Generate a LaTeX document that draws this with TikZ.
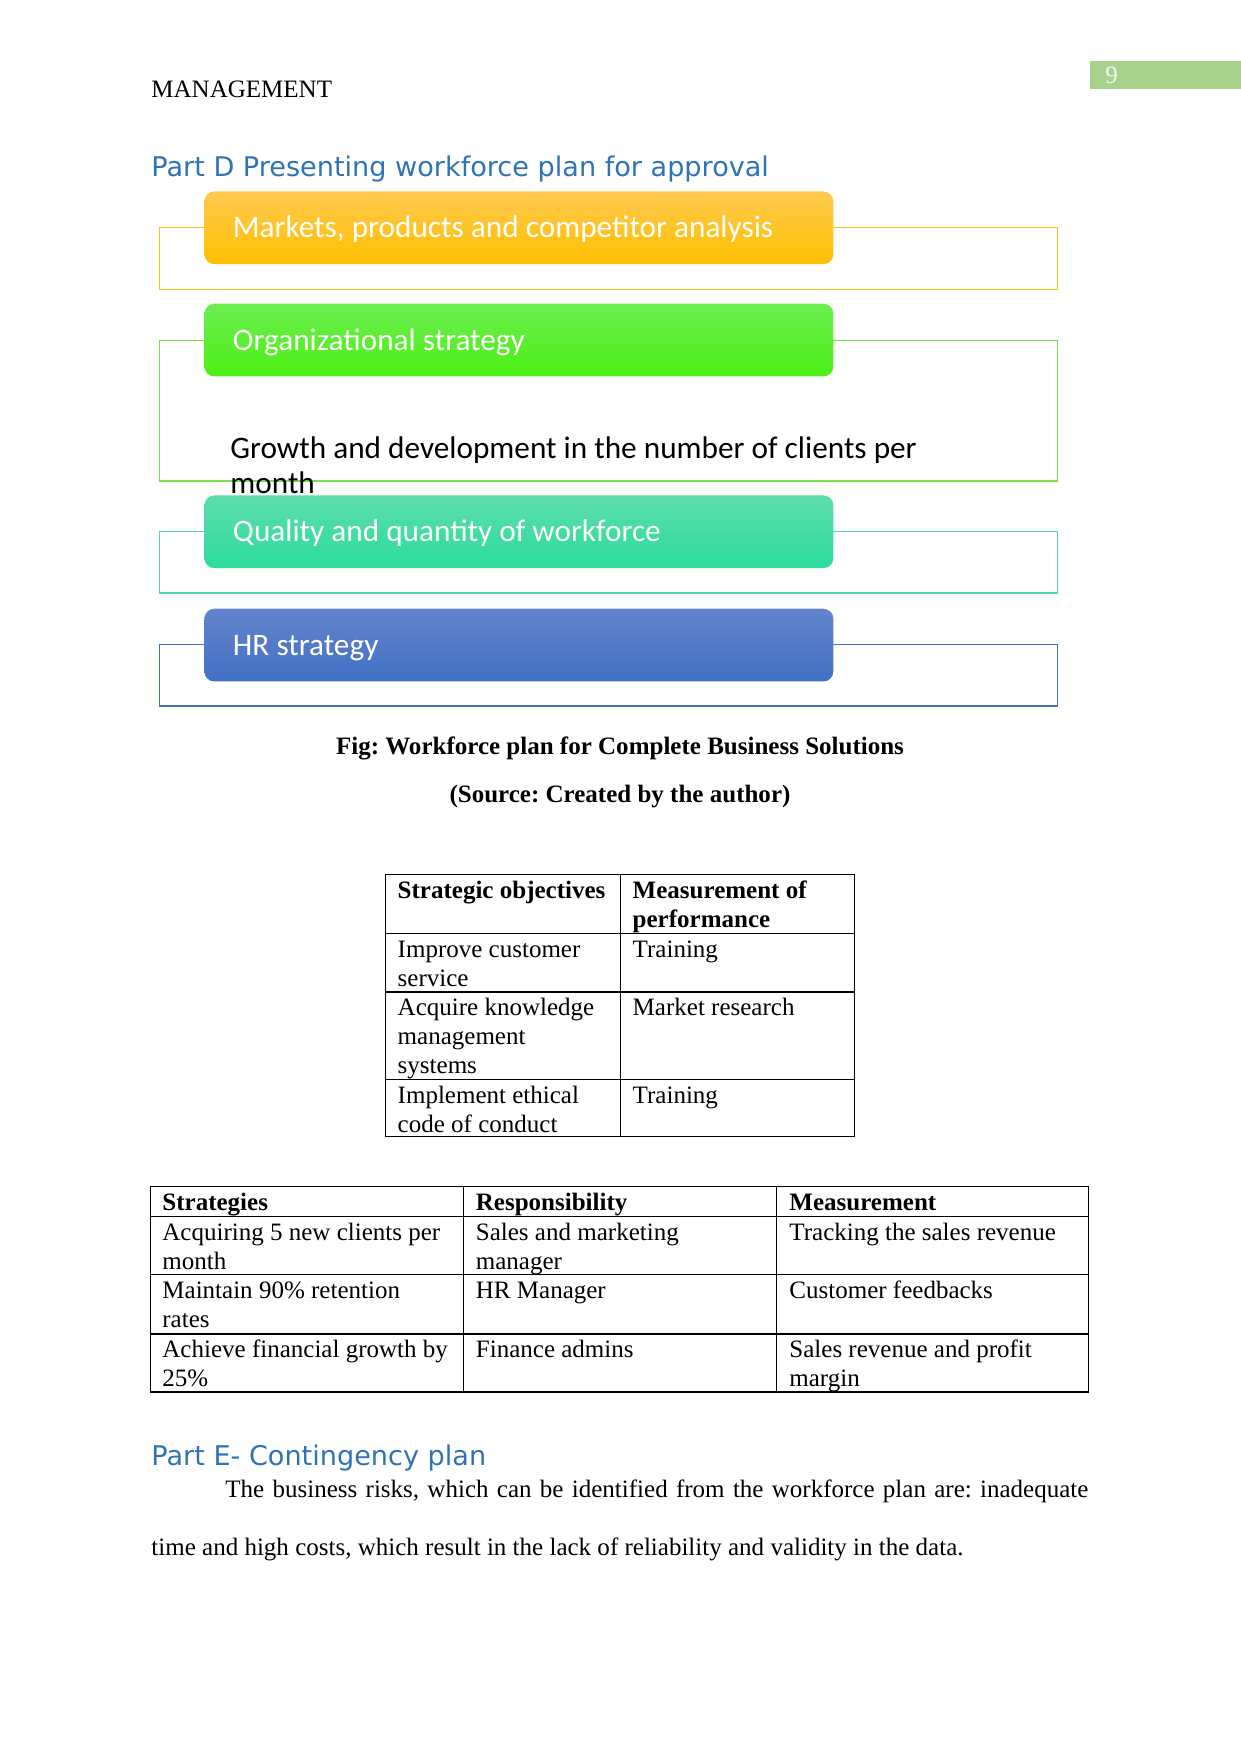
\documentclass[tikz,border=0pt]{standalone}
\usepackage{fontspec}
\setmainfont{Liberation Serif}
\newfontfamily\calibrifont{Carlito}
\newfontfamily\headingfont{DejaVu Sans}
\usepackage{tikz}
\frenchspacing

\definecolor{headblue}{HTML}{2E74B5}
\definecolor{pagegreen}{HTML}{A9D18E}
\definecolor{pagenum}{HTML}{F4FAE8}
\definecolor{orangetop}{HTML}{FFC94F}
\definecolor{orangebot}{HTML}{FFC000}
\definecolor{greentop}{HTML}{6CEE50}
\definecolor{greenbot}{HTML}{4CF014}
\definecolor{tealtop}{HTML}{5DDDAB}
\definecolor{tealbot}{HTML}{2CDC9C}
\definecolor{bluetop}{HTML}{6384CD}
\definecolor{bluebot}{HTML}{4270C4}
\definecolor{orangeline}{HTML}{F7C21A}
\definecolor{greenline}{HTML}{7ADF4C}
\definecolor{tealline}{HTML}{55D5AC}
\definecolor{blueline}{HTML}{4A6EB8}

\begin{document}
\begin{tikzpicture}[x=0.4797pt,y=-0.4797pt,
    stage/.style={rounded corners=4.8pt,anchor=north west,
      minimum height=34.9pt,inner xsep=13.7pt,inner ysep=0pt,
      text width=274.3pt,align=flush left,text=white,
      text height=9.7pt,text depth=0pt,
      font=\calibrifont\fontsize{15}{18}\selectfont},
    frame/.style={line width=0.6pt},
    rule/.style={line width=0.6pt},
    cell/.style={anchor=north west,inner sep=0pt,align=left,
      font=\fontsize{12}{13.8}\selectfont},
    heading/.style={anchor=base west,inner sep=0pt,text=headblue,
      font=\headingfont\fontsize{13}{15.6}\selectfont},
    body/.style={anchor=base west,inner sep=0pt,
      font=\fontsize{12}{13.8}\selectfont}]
  \useasboundingbox (0,0) rectangle (1241,1754);

  % page head
  \node[body] (head) at (151,98) {MANAGEMENT};
  \fill[pagegreen] (1090,61) rectangle (1241,89);
  \node[body,text=pagenum] (pnum) at (1105,83.3) {9};
  \node[heading] (partd) at (151,176.5) {Part D Presenting workforce plan for approval};

  % workforce plan diagram
  \draw[frame,orangeline] (159.5,227.4) rectangle (1057.3,289.3);
  \draw[frame,greenline] (159.5,340.3) rectangle (1057.3,481);
  \draw[frame,tealline] (159.5,531.4) rectangle (1057.3,593);
  \draw[frame,blueline] (159.5,644.5) rectangle (1057.3,706.2);
  \draw[blueline,line width=1.2pt] (159.5,706.2) -- (1057.3,706.2);

  \node[stage,top color=orangetop,bottom color=orangebot] (b_1) at (204,191)
    {Markets, products and competitor analysis};
  \node[stage,top color=greentop,bottom color=greenbot] (b_2) at (204,303.3)
    {Organizational strategy};
  \node[anchor=north west,inner sep=0pt,align=left,
    font=\calibrifont\fontsize{15}{16.8}\selectfont] (growth) at (230,433.8)
    {\strut Growth and development in the number of clients per\\month};
  \node[stage,top color=tealtop,bottom color=tealbot] (b_3) at (204,495)
    {Quality and quantity of workforce};
  \node[stage,top color=bluetop,bottom color=bluebot] (b_4) at (204,608.3)
    {HR strategy};

  % caption
  \node[body,anchor=base] (cap) at (620,754.5)
    {\textbf{Fig: Workforce plan for Complete Business Solutions}};
  \node[body,anchor=base] (src) at (620,802.8)
    {\textbf{(Source: Created by the author)}};

  % table of objectives
  \draw[rule] (385.7,874.7) rectangle (854.3,1136.7);
  \draw[rule] (620.3,874.7) -- (620.3,1136.7);
  \foreach \y in {933.3,1079.3}
    \draw[rule] (385.7,\y) -- (854.3,\y);
  \draw[line width=0.9pt] (385.7,991.7) -- (854.3,991.7);
  \node[cell] (o_h1) at (397.3,878.1) {\strut\textbf{Strategic objectives}};
  \node[cell] (o_h2) at (632.3,878.1) {\strut\textbf{Measurement of}\\\textbf{performance}};
  \node[cell] (o_11) at (397.3,936.7) {\strut Improve customer\\service};
  \node[cell] (o_12) at (632.3,936.7) {\strut Training};
  \node[cell] (o_21) at (397.3,995.1) {\strut Acquire knowledge\\management\\systems};
  \node[cell] (o_22) at (632.3,995.1) {\strut Market research};
  \node[cell] (o_31) at (397.3,1082.7) {\strut Implement ethical\\code of conduct};
  \node[cell] (o_32) at (632.3,1082.7) {\strut Training};

  % table of strategies
  \draw[rule] (150.2,1186.2) rectangle (1088.8,1392.1);
  \foreach \x in {463.3,776.6}
    \draw[rule] (\x,1186.2) -- (\x,1392.1);
  \foreach \y in {1216.4,1274.6,1333.9}
    \draw[rule] (150.2,\y) -- (1088.8,\y);
  \draw[line width=1.3pt] (150.2,1392.1) -- (1088.8,1392.1);
  \node[cell] (s_h1) at (162,1189.6) {\strut\textbf{Strategies}};
  \node[cell] (s_h2) at (475.5,1189.6) {\strut\textbf{Responsibility}};
  \node[cell] (s_h3) at (789,1189.6) {\strut\textbf{Measurement}};
  \node[cell] (s_11) at (162,1219.8) {\strut Acquiring 5 new clients per\\month};
  \node[cell] (s_12) at (475.5,1219.8) {\strut Sales and marketing\\manager};
  \node[cell] (s_13) at (789,1219.8) {\strut Tracking the sales revenue};
  \node[cell] (s_21) at (162,1278) {\strut Maintain 90\% retention\\rates};
  \node[cell] (s_22) at (475.5,1278) {\strut HR Manager};
  \node[cell] (s_23) at (789,1278) {\strut Customer feedbacks};
  \node[cell] (s_31) at (162,1337.3) {\strut Achieve financial growth by\\25\%};
  \node[cell] (s_32) at (475.5,1337.3) {\strut Finance admins};
  \node[cell] (s_33) at (789,1337.3) {\strut Sales revenue and profit\\margin};

  % contingency plan
  \node[heading] (parte) at (151,1465) {Part E- Contingency plan};
  \node[body] (par_1) at (225,1497)
    {\makebox[414pt][s]{The business risks, which can be identified from the workforce plan are: inadequate}};
  \node[body] (par_2) at (151,1555.5)
    {time and high costs, which result in the lack of reliability and validity in the data.};
\end{tikzpicture}
\end{document}
